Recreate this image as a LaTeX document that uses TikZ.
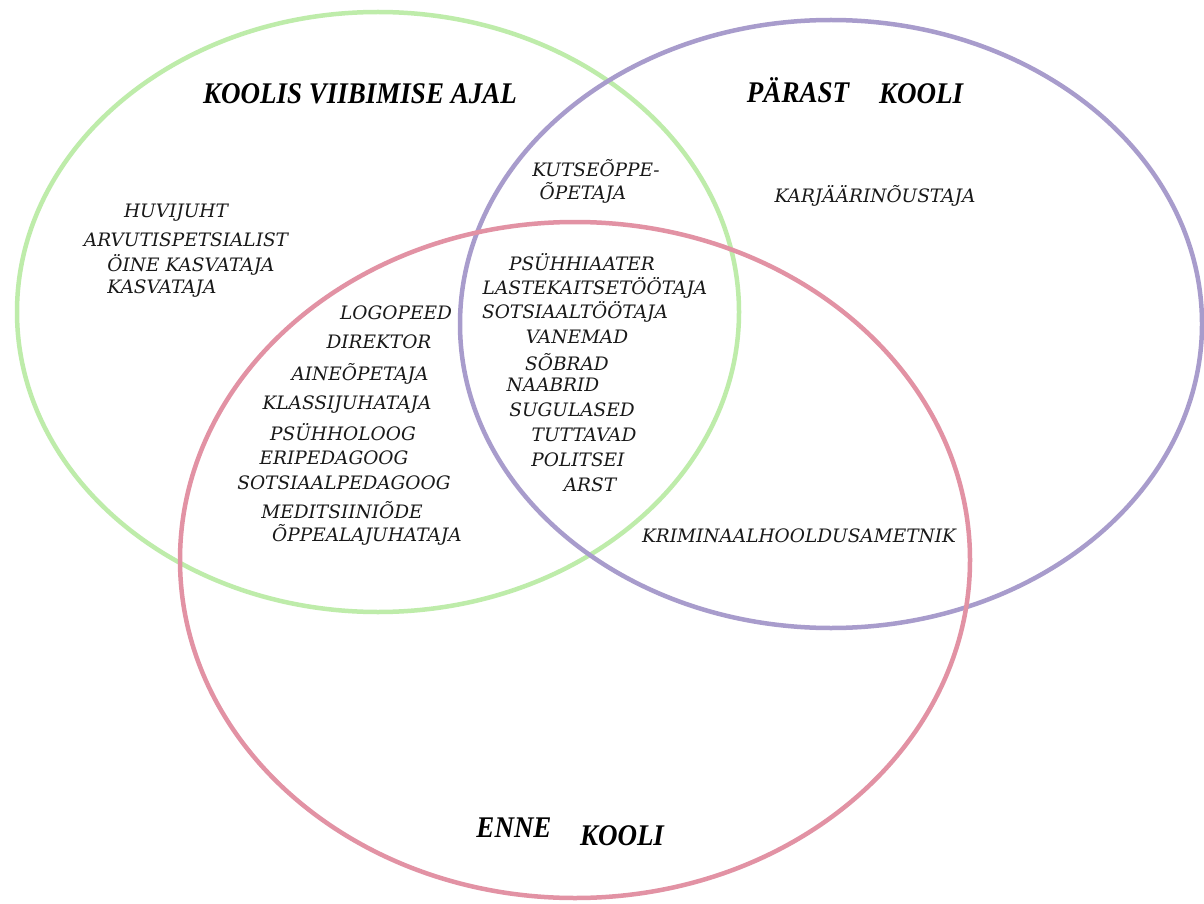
\documentclass[tikz,border=0pt]{standalone}
\usepackage{fontspec}
\setmainfont{DejaVu Serif}
\newfontfamily\headfont{Liberation Serif}
\definecolor{cgreen}{RGB}{190,236,170}
\definecolor{cpurple}{RGB}{168,156,204}
\definecolor{cpink}{RGB}{226,146,164}
\tikzset{
  ring/.style={line width=4.5pt},
  lbl/.style={font=\fontsize{18.5}{20}\selectfont\itshape, inner sep=0pt, text=black!90},
  head/.style={font=\headfont\fontsize{30}{32}\selectfont\bfseries\itshape, inner sep=0pt, xscale=0.9}
}
\begin{document}
\begin{tikzpicture}[x=1pt,y=-1pt]
\useasboundingbox[fill=white] (0,0) rectangle (1204,904);
\draw[ring, cgreen] (378,312) ellipse [x radius=361, y radius=300];
\draw[ring, cpurple] (831,324) ellipse [x radius=371, y radius=304];
\draw[ring, cpink] (575,560) ellipse [x radius=395, y radius=338];

\node[head] (h1) at (360,94) {KOOLIS VIIBIMISE AJAL};
\node[head] (h2a) at (798,90) {PÄRAST};
\node[head] (h2b) at (921,94) {KOOLI};
\node[head] (h3a) at (514,828) {ENNE};
\node[head] (h3b) at (622,836) {KOOLI};

\node[lbl] (a1) at (176,213) {HUVIJUHT};
\node[lbl] (a2) at (186,240) {ARVUTISPETSIALIST};
\node[lbl] (a3) at (191,265) {ÖINE KASVATAJA};
\node[lbl] (a4) at (162,289) {KASVATAJA};

\node[lbl] (b1) at (396,313) {LOGOPEED};
\node[lbl] (b2) at (379,342) {DIREKTOR};
\node[lbl] (b3) at (360,374) {AINEÕPETAJA};
\node[lbl] (b4) at (347,405) {KLASSIJUHATAJA};
\node[lbl] (b5) at (343,432) {PSÜHHOLOOG};
\node[lbl] (b6) at (334,458) {ERIPEDAGOOG};
\node[lbl] (b7) at (344,483) {SOTSIAALPEDAGOOG};
\node[lbl] (b8) at (342,510) {MEDITSIINIÕDE};
\node[lbl] (b9) at (367,535) {ÕPPEALAJUHATAJA};

\node[lbl] (c1) at (596,168) {KUTSEÕPPE-};
\node[lbl] (c2) at (583,193) {ÕPETAJA};

\node[lbl] (d1) at (582,262) {PSÜHHIAATER};
\node[lbl] (d2) at (595,288) {LASTEKAITSETÖÖTAJA};
\node[lbl] (d3) at (575,312) {SOTSIAALTÖÖTAJA};
\node[lbl] (d4) at (577,337) {VANEMAD};
\node[lbl] (d5) at (567,362) {SÕBRAD};
\node[lbl] (d6) at (553,385) {NAABRID};
\node[lbl] (d7) at (572,410) {SUGULASED};
\node[lbl] (d8) at (584,435) {TUTTAVAD};
\node[lbl] (d9) at (578,460) {POLITSEI};
\node[lbl] (d10) at (590,485) {ARST};

\node[lbl] (e1) at (875,196) {KARJÄÄRINÕUSTAJA};
\node[lbl] (e2) at (799,536) {KRIMINAALHOOLDUSAMETNIK};
\end{tikzpicture}
\end{document}
